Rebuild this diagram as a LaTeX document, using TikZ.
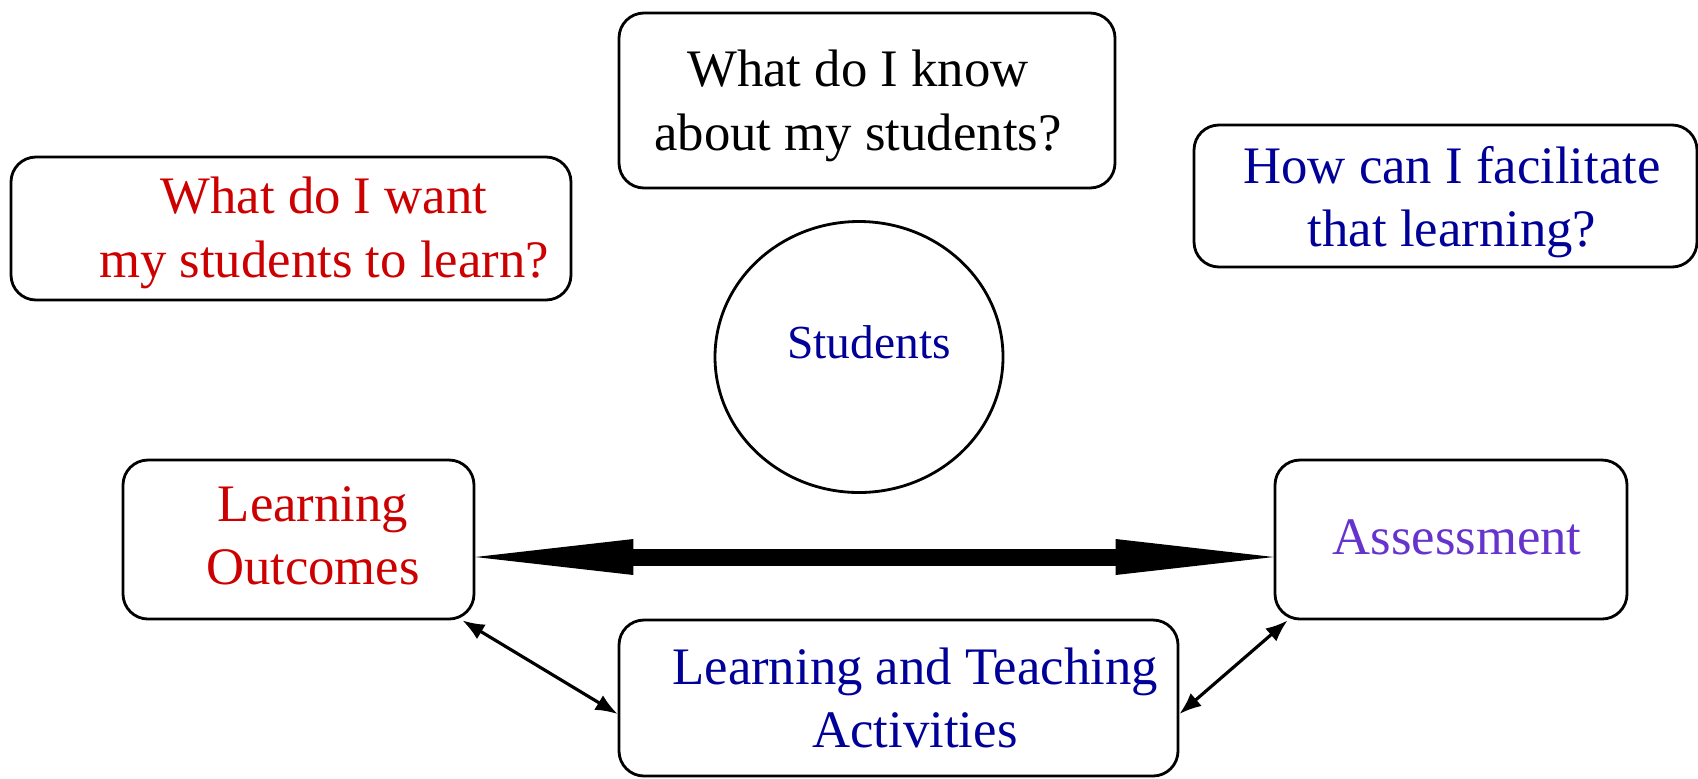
\documentclass[tikz,border=0pt]{standalone}
\usepackage{fontspec}
\setmainfont{Liberation Serif}
\usepackage{xcolor}
\usepackage{tikz}
\usetikzlibrary{positioning, arrows.meta, shapes.geometric}
\definecolor{rojoobj}{HTML}{CC0000}
\definecolor{azulact}{HTML}{000099}
\definecolor{moradoeval}{HTML}{6633CC}

\begin{document}
\begin{tikzpicture}[
    every node/.style={font=\fontsize{15}{18}\selectfont, align=center},
    caja/.style={draw, line width=0.8pt, rounded corners=0.25cm, inner sep=0pt},
    enlace/.style={{Latex[length=0.22cm,width=0.17cm]}-{Latex[length=0.22cm,width=0.17cm]}, line width=0.9pt}
]
\useasboundingbox (0,0) rectangle (16.98,7.78);

% preguntas
\node[caja, minimum width=4.96cm, minimum height=1.75cm] (conocer) at (8.67,6.775) {};
\node (conocertxt) at (8.58,6.72) {What do I know\\about my students?};

\node[caja, minimum width=5.60cm, minimum height=1.43cm] (aprender) at (2.91,5.495) {};
\node[text=rojoobj] (aprendertxt) at (3.24,5.45) {What do I want\\my students to learn?};

\node[caja, minimum width=5.03cm, minimum height=1.42cm] (facilitar) at (14.455,5.82) {};
\node[text=azulact] (facilitartxt) at (14.52,5.76) {How can I facilitate\\that learning?};

% estudiantes
\node[draw, line width=0.8pt, ellipse, minimum width=2.88cm, minimum height=2.71cm] (estudiantes) at (8.59,4.21) {};
\node[text=azulact, font=\fontsize{13.5}{16}\selectfont] (estudiantestxt) at (8.69,4.36) {Students};

% alineamiento
\node[caja, minimum width=3.51cm, minimum height=1.59cm] (resultados) at (2.985,2.385) {};
\node[text=rojoobj] (resultadostxt) at (3.13,2.42) {Learning\\Outcomes};

\node[caja, minimum width=3.52cm, minimum height=1.59cm] (evaluacion) at (14.51,2.385) {};
\node[text=moradoeval] (evaluaciontxt) at (14.57,2.41) {Assessment};

\node[caja, minimum width=5.59cm, minimum height=1.56cm] (actividades) at (8.985,0.80) {};
\node[text=azulact] (actividadestxt) at (9.15,0.80) {Learning and Teaching\\Activities};

\draw[{Triangle[length=1.58cm,width=0.36cm,line width=0pt]}-{Triangle[length=1.58cm,width=0.36cm,line width=0pt]}, line width=0.17cm]
    ([yshift=-0.175cm]resultados.east) -- ([yshift=-0.175cm]evaluacion.west);
\draw[enlace] ([xshift=-0.13cm]resultados.south east) -- ([yshift=-0.16cm]actividades.west);
\draw[enlace] ([yshift=-0.16cm]actividades.east) -- ([xshift=0.14cm]evaluacion.south west);
\end{tikzpicture}
\end{document}
